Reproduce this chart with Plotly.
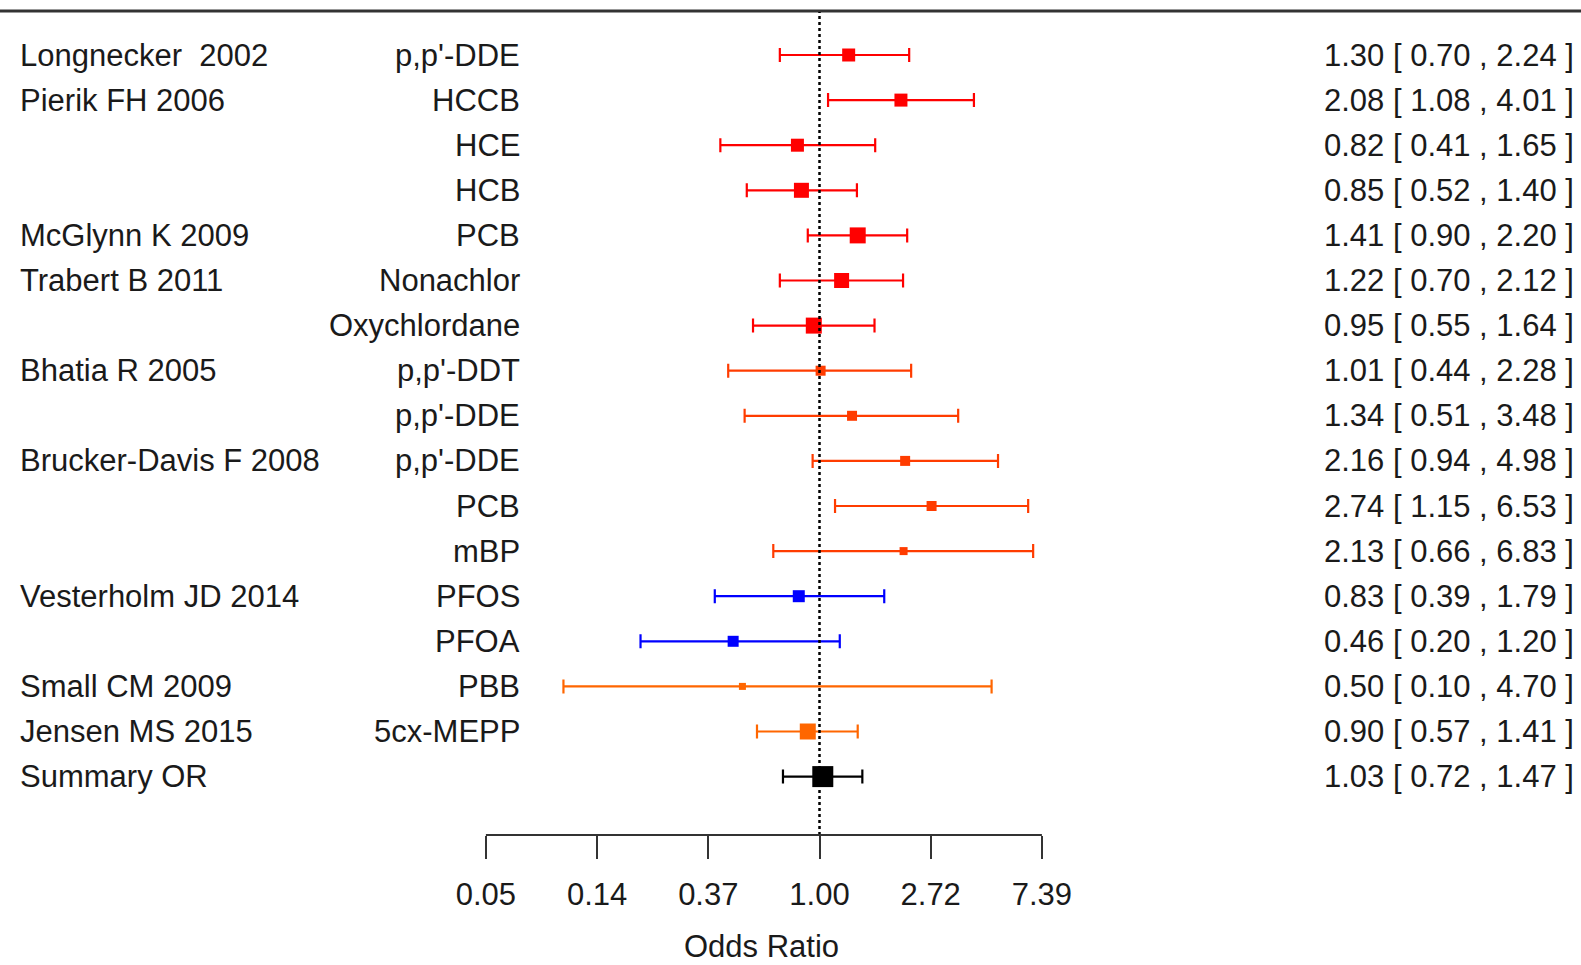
import numpy as np
import plotly.graph_objects as go

# ---------------- data ----------------
studies = ["Longnecker  2002", "Pierik FH 2006", "", "", "McGlynn K 2009",
           "Trabert B 2011", "", "Bhatia R 2005", "", "Brucker-Davis F 2008",
           "", "", "Vesterholm JD 2014", "", "Small CM 2009", "Jensen MS 2015",
           "Summary OR"]
exposures = ["p,p'-DDE", "HCCB", "HCE", "HCB", "PCB", "Nonachlor", "Oxychlordane",
             "p,p'-DDT", "p,p'-DDE", "p,p'-DDE", "PCB", "mBP", "PFOS", "PFOA",
             "PBB", "5cx-MEPP", ""]
odds_ratio = [1.30, 2.08, 0.82, 0.85, 1.41, 1.22, 0.95, 1.01, 1.34, 2.16, 2.74,
              2.13, 0.83, 0.46, 0.50, 0.90, 1.03]
ci_low = [0.70, 1.08, 0.41, 0.52, 0.90, 0.70, 0.55, 0.44, 0.51, 0.94, 1.15,
          0.66, 0.39, 0.20, 0.10, 0.57, 0.72]
ci_high = [2.24, 4.01, 1.65, 1.40, 2.20, 2.12, 1.64, 2.28, 3.48, 4.98, 6.53,
           6.83, 1.79, 1.20, 4.70, 1.41, 1.47]
tick_log_values = [-3, -2, -1, 0, 1, 2]
tick_labels = ["0.05", "0.14", "0.37", "1.00", "2.72", "7.39"]
x_title = "Odds Ratio"

# ---------------- styles ----------------
RED, RORANGE, BLUE, ORANGE, BLACK = "#FF0000", "#FF3C00", "#0000FF", "#FF6600", "#000000"
row_colors = [RED] * 7 + [RORANGE] * 5 + [BLUE] * 2 + [ORANGE] * 2 + [BLACK]
marker_px = [13, 13, 13, 15, 16, 15, 16, 10, 10, 10, 10, 8, 12, 11, 7, 16, 21]

W, H = 1581, 965
X0_PX, X_SCALE = 819.5, 111.2         # pixel of OR=1 and pixels per ln unit
ROW0_PX, ROW_STEP, AXIS_PX = 55.0, 45.1, 835.0
FONT = "Liberation Sans, Arial, sans-serif"
FS = 31
TXT = "#1a1a1a"

x_range = [(0 - X0_PX) / X_SCALE, (W - X0_PX) / X_SCALE]
y_range = [(AXIS_PX - ROW0_PX) / ROW_STEP, (0 - ROW0_PX) / ROW_STEP]
y_dom_bottom = (H - AXIS_PX) / H

fig = go.Figure()
ln_or = np.log(odds_ratio)
ln_lo = np.log(ci_low)
ln_hi = np.log(ci_high)

for i in range(len(odds_ratio)):
    fig.add_trace(go.Scatter(
        x=[ln_or[i]], y=[i], mode="markers",
        marker=dict(symbol="square", size=marker_px[i], color=row_colors[i],
                    line=dict(width=0)),
        error_x=dict(type="data", symmetric=False,
                     array=[ln_hi[i] - ln_or[i]], arrayminus=[ln_or[i] - ln_lo[i]],
                     color=row_colors[i], thickness=2.2, width=7),
        showlegend=False, hoverinfo="skip", cliponaxis=False,
    ))

annotations = []
for i in range(len(odds_ratio)):
    if studies[i]:
        annotations.append(dict(x=18 / W, xref="paper", y=i, yref="y", text=studies[i],
                                xanchor="left", yanchor="middle", showarrow=False,
                                font=dict(family=FONT, size=FS, color=TXT)))
    if exposures[i]:
        annotations.append(dict(x=522 / W, xref="paper", y=i, yref="y", text=exposures[i],
                                xanchor="right", yanchor="middle", showarrow=False,
                                font=dict(family=FONT, size=FS, color=TXT)))
    annotations.append(dict(x=1576 / W, xref="paper", y=i, yref="y",
                            text=f"{odds_ratio[i]:.2f} [ {ci_low[i]:.2f} , {ci_high[i]:.2f} ]",
                            xanchor="right", yanchor="middle", showarrow=False,
                            font=dict(family=FONT, size=FS, color=TXT)))
annotations.append(dict(x=761 / W, xref="paper", y=0, yref="paper", text=x_title,
                        xanchor="center", yanchor="bottom", showarrow=False, borderpad=0,
                        font=dict(family=FONT, size=FS, color=TXT)))

shapes = [
    # top border
    dict(type="line", xref="paper", yref="paper", x0=0, x1=1, y0=1 - 11 / H, y1=1 - 11 / H,
         line=dict(color="#333333", width=3)),
    # reference line at OR = 1
    dict(type="line", xref="x", yref="paper", x0=0, x1=0, y0=y_dom_bottom, y1=1 - 12 / H,
         line=dict(color="#000000", width=2.5, dash="dot")),
    # axis line
    dict(type="line", xref="x", yref="paper", x0=tick_log_values[0], x1=tick_log_values[-1],
         y0=y_dom_bottom, y1=y_dom_bottom, line=dict(color="#333333", width=2)),
]

fig.update_layout(
    width=W, height=H, margin=dict(l=0, r=0, t=0, b=0),
    paper_bgcolor="white", plot_bgcolor="white",
    xaxis=dict(range=x_range, domain=[0, 1], showgrid=False, zeroline=False, showline=False,
               tickmode="array", tickvals=tick_log_values, ticktext=tick_labels,
               ticks="outside", ticklen=23, tickwidth=2, tickcolor="#333333",
               ticklabelstandoff=9,
               tickfont=dict(family=FONT, size=FS, color=TXT), fixedrange=True),
    yaxis=dict(range=y_range, domain=[y_dom_bottom, 1], visible=False, fixedrange=True),
    annotations=annotations, shapes=shapes,
)

fig.write_html("out.html")
